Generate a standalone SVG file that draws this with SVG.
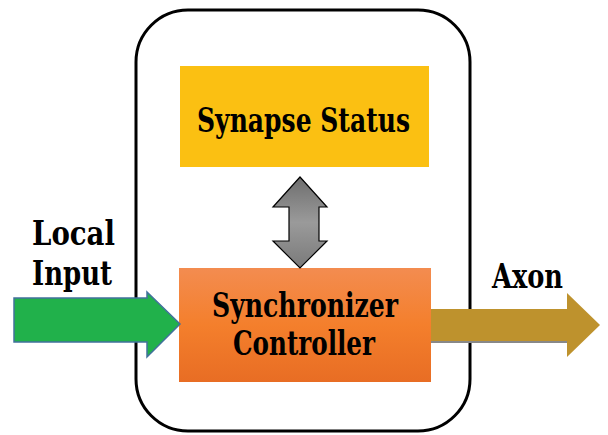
<svg xmlns="http://www.w3.org/2000/svg" width="608" height="435" viewBox="0 0 608 435">
<style>
.t{font-family:'DejaVu Serif',serif;font-stretch:condensed;font-weight:bold;fill:#000;font-size:33px;}
</style>
<defs>
<linearGradient id="og" x1="0" y1="0" x2="0" y2="1">
<stop offset="0" stop-color="#F38C50"/>
<stop offset="0.5" stop-color="#F47F2C"/>
<stop offset="1" stop-color="#E86D24"/>
</linearGradient>
<linearGradient id="gg" x1="0" y1="0" x2="0" y2="1">
<stop offset="0" stop-color="#6E6E6E"/>
<stop offset="0.5" stop-color="#9A9A9A"/>
<stop offset="1" stop-color="#7A7A7A"/>
</linearGradient>
</defs>
<g id="container">
<rect x="136" y="10" width="334" height="421" rx="52" ry="52" fill="#fff" stroke="#000" stroke-width="3"/>
</g>
<g id="synapse-status">
<rect x="180" y="66" width="249" height="101" fill="#FBC012"/>
<text class="t" x="197" y="132" textLength="213" lengthAdjust="spacingAndGlyphs">Synapse Status</text>
</g>
<g id="synchronizer-controller">
<rect x="179" y="268" width="252" height="114" fill="url(#og)"/>
<text class="t" x="212" y="317" textLength="186" lengthAdjust="spacingAndGlyphs">Synchronizer</text>
<text class="t" x="233" y="355" textLength="142" lengthAdjust="spacingAndGlyphs">Controller</text>
</g>
<g id="local-input">
<text class="t" x="32" y="245" textLength="83" lengthAdjust="spacingAndGlyphs">Local</text>
<text class="t" x="32" y="285" textLength="80" lengthAdjust="spacingAndGlyphs">Input</text>
</g>
<g id="axon">
<text class="t" x="492" y="288" textLength="71" lengthAdjust="spacingAndGlyphs">Axon</text>
</g>
<g id="connectors">
<path d="M300,177 L327,207 L319,207 L319,241 L327,241 L300,268 L273,241 L289,241 L289,207 L273,207 Z" fill="url(#gg)" stroke="#000" stroke-width="1.2"/>
<path d="M14,298 L147,298 L147,292 L180,324 L147,357 L147,342 L14,342 Z" fill="#21B14B" stroke="#41719C" stroke-width="1.5"/>
<rect x="431" y="341" width="137" height="2" fill="#888"/>
<path d="M431,309 L567,309 L567,293 L600,325 L567,357 L567,341 L431,341 Z" fill="#BE922D"/>
</g>
</svg>
